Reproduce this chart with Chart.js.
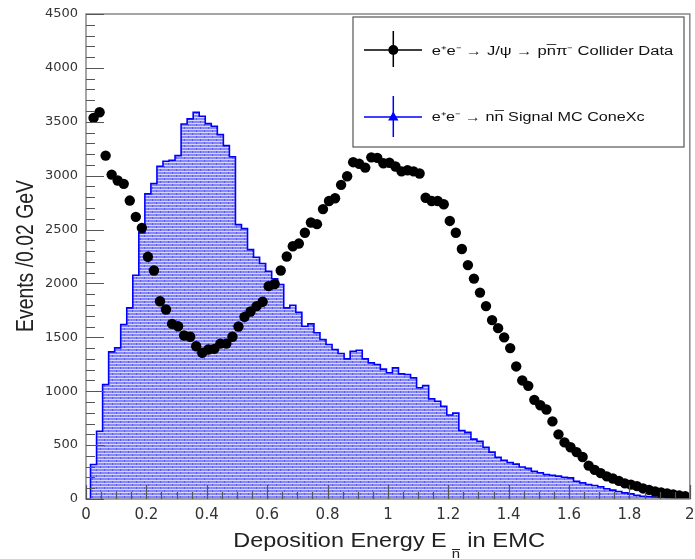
<!DOCTYPE html>
<html><head><meta charset="utf-8">
<script src="https://cdn.jsdelivr.net/npm/chart.js@4.4.1/dist/chart.umd.min.js"></script>
<style>html,body{margin:0;padding:0;background:#fff;}#wrap{width:695px;height:559px;}</style>
</head><body><div id="wrap"><canvas id="c" width="695" height="559"></canvas></div>
<script>
// ---- data ----
const binStart = 0.015;   // lower edge of first bin (GeV)
const binWidth = 0.02;    // GeV per bin

// Signal MC histogram (events per bin)
const mcValues = [320,629,1062,1365,1402,1619,1773,2076,2469,2831,
  2927,3087,3134,3143,3186,3480,3527,3588,3551,3483,
  3458,3381,3279,3176,2546,2509,2314,2243,2185,2113,
  2043,1990,1773,1798,1733,1603,1625,1542,1480,1433,
  1387,1350,1300,1371,1380,1300,1263,1248,1205,1171,
  1217,1161,1155,1124,1032,1053,929,907,861,779,
  797,636,618,556,536,480,435,388,360,338,
  324,297,284,258,243,227,221,212,202,196,
  165,150,135,125,113,95,82,70,57,48,
  35,26,22,18,14,11,9,7,5];

// Collider data points (events per bin)
const dataValues = [3536,3588,3186,3010,2955,2924,2769,2618,2516,2247,
  2120,1835,1758,1625,1603,1517,1505,1417,1356,1387,
  1393,1442,1442,1505,1600,1690,1740,1790,1830,1975,
  1995,2120,2250,2345,2370,2470,2565,2550,2690,2765,
  2790,2915,2995,3125,3110,3075,3170,3165,3115,3120,
  3085,3040,3050,3040,3020,2795,2765,2765,2735,2580,
  2470,2320,2170,2045,1915,1790,1660,1585,1500,1400,
  1230,1100,1050,920,870,830,720,600,525,480,
  435,390,310,270,240,210,190,168,145,133,
  119,98,85,70,60,52,42,32,25];

const xTickLabels = ['0','0.2','0.4','0.6','0.8','1','1.2','1.4','1.6','1.8','2'];
const yTickLabels = ['0','500','1000','1500','2000','2500','3000','3500','4000','4500'];
const legendLabels = ['e\u207Ae\u207B \u2192 J/\u03C8 \u2192 pn\u0305\u03C0\u207B Collider Data',
                      'e\u207Ae\u207B \u2192 nn\u0305 Signal MC ConeXc'];
const xTitleParts = ['Deposition Energy E', 'n', 'in EMC'];
const yTitle = 'Events /0.02 GeV';

// ---- build library data ----
const dataPts = dataValues.map((v, i) => ({ x: binStart + (i + 0.5) * binWidth, y: v }));
const histPts = [{ x: 0, y: 0 }, { x: binStart, y: 0 }];
mcValues.forEach((v, i) => {
  histPts.push({ x: binStart + i * binWidth, y: v });
});
histPts.push({ x: binStart + mcValues.length * binWidth, y: mcValues[mcValues.length - 1] });
histPts.push({ x: binStart + mcValues.length * binWidth, y: 0 });

// brick hatch pattern
function makePattern() {
  const p = document.createElement('canvas');
  p.width = 8; p.height = 6;
  const g = p.getContext('2d');
  g.fillStyle = '#8888f7'; g.fillRect(0, 0, 8, 6);
  g.fillStyle = '#d8d8ff'; g.fillRect(0, 0, 8, 1); g.fillRect(0, 3, 8, 1);
  g.fillStyle = '#5c5cf0'; g.fillRect(0, 1, 1, 2); g.fillRect(4, 4, 1, 2);
  return g.createPattern(p, 'repeat');
}
const ctx = document.getElementById('c').getContext('2d');
const pattern = makePattern();

function fitText(c, text, x, y, width, font, sy) {
  c.save();
  c.font = font;
  const w = c.measureText(text).width;
  c.translate(x, y);
  c.scale(width / w, sy || 1);
  c.textAlign = 'left';
  c.textBaseline = 'alphabetic';
  c.fillText(text, 0, 0);
  c.restore();
}

const decorPlugin = {
  id: 'decor',
  afterDatasetsDraw(chart) {
    const c = chart.ctx, a = chart.chartArea;
    const xs = chart.scales.x, ys = chart.scales.y;
    c.save();
    // frame
    c.strokeStyle = '#888'; c.lineWidth = 1.5;
    c.strokeRect(a.left, a.top, a.right - a.left, a.bottom - a.top);
    // y ticks (inside)
    c.strokeStyle = '#555'; c.lineWidth = 1.2;
    c.beginPath();
    for (let v = 0; v <= 4500; v += 100) {
      const py = Math.round(ys.getPixelForValue(v)) + 0.5;
      const len = (v % 500 === 0) ? 18 : 9;
      c.moveTo(a.left, py); c.lineTo(a.left + len, py);
    }
    // x ticks (inside)
    for (let i = 0; i <= 40; i++) {
      const v = i * 0.05;
      const px = Math.round(xs.getPixelForValue(v)) + 0.5;
      const len = (i % 4 === 0) ? 14 : 7;
      c.moveTo(px, a.bottom); c.lineTo(px, a.bottom - len);
    }
    c.stroke();

    // legend box
    c.fillStyle = '#fff';
    c.fillRect(353, 17, 331, 130);
    c.strokeStyle = '#555'; c.lineWidth = 1.2;
    c.strokeRect(353, 17, 331, 130);
    // entry 1: black point with error bars
    c.strokeStyle = '#000'; c.lineWidth = 1.5;
    c.beginPath();
    c.moveTo(364, 50); c.lineTo(422, 50);
    c.moveTo(393.3, 31); c.lineTo(393.3, 67);
    c.stroke();
    c.fillStyle = '#000';
    c.beginPath(); c.arc(393.3, 50, 5, 0, Math.PI * 2); c.fill();
    // entry 2: blue triangle with error bars
    c.strokeStyle = '#0000ff';
    c.beginPath();
    c.moveTo(364, 117); c.lineTo(422, 117);
    c.moveTo(393.3, 96); c.lineTo(393.3, 137);
    c.stroke();
    c.fillStyle = '#0000ff';
    c.beginPath(); c.moveTo(393.3, 111.5); c.lineTo(398.5, 120.5); c.lineTo(388.1, 120.5); c.closePath(); c.fill();
    // legend texts
    c.fillStyle = '#111';
    fitText(c, legendLabels[0], 431.7, 54.5, 241.6, '12px "Liberation Sans"');
    fitText(c, legendLabels[1], 431.7, 121, 213, '12px "Liberation Sans"');

    // x title
    c.fillStyle = '#222';
    fitText(c, xTitleParts[0], 233.3, 547, 213.4, '21px "Liberation Sans"');
    fitText(c, xTitleParts[1], 451.7, 558, 8.3, '13px "Liberation Sans"');
    c.strokeStyle = '#222'; c.lineWidth = 1;
    c.beginPath(); c.moveTo(452, 549.5); c.lineTo(460, 549.5); c.stroke();
    fitText(c, xTitleParts[2], 467.3, 547, 77.7, '21px "Liberation Sans"');

    // y title (rotated)
    c.save();
    c.translate(33, 332);
    c.rotate(-Math.PI / 2);
    c.font = '19px "Liberation Sans"';
    const w = c.measureText(yTitle).width;
    c.scale(152 / w, 1.28);
    c.fillText(yTitle, 0, 0);
    c.restore();
    c.restore();
  }
};

new Chart(ctx, {
  type: 'line',
  data: {
    datasets: [
      { label: 'Collider Data', data: dataPts, showLine: false, pointRadius: 5.2, pointHoverRadius: 5.2,
        pointBackgroundColor: '#000', pointBorderColor: '#000', pointBorderWidth: 0, order: 0 },
      { label: 'Signal MC', data: histPts, stepped: 'before', borderColor: '#0000ff', borderWidth: 1.6,
        backgroundColor: pattern, fill: 'origin', pointRadius: 0, order: 1 }
    ]
  },
  options: {
    responsive: false, animation: false, devicePixelRatio: 1,
    layout: { padding: { left: 0, right: 5, top: 14, bottom: 0 } },
    plugins: { legend: { display: false }, tooltip: { enabled: false } },
    scales: {
      x: {
        type: 'linear', min: 0, max: 2,
        border: { display: false },
        grid: { display: false, drawTicks: false },
        ticks: { stepSize: 0.2, padding: 7, maxRotation: 0, autoSkip: false,
          font: { family: 'DejaVu Sans', size: 15 }, color: '#333',
          callback: (v, i) => xTickLabels[i] },
        afterFit: s => { s.height = 60; s.paddingLeft = 0; s.paddingRight = 0; }
      },
      y: {
        type: 'linear', min: 0, max: 4500,
        border: { display: false },
        grid: { display: false, drawTicks: false },
        ticks: { stepSize: 500, padding: 8, autoSkip: false,
          font: { family: 'DejaVu Sans', size: 13 }, color: '#333',
          callback: (v, i) => yTickLabels[i] },
        afterFit: s => { s.width = 86; s.paddingTop = 0; s.paddingBottom = 0; }
      }
    }
  },
  plugins: [decorPlugin]
});
</script>
</body></html>
